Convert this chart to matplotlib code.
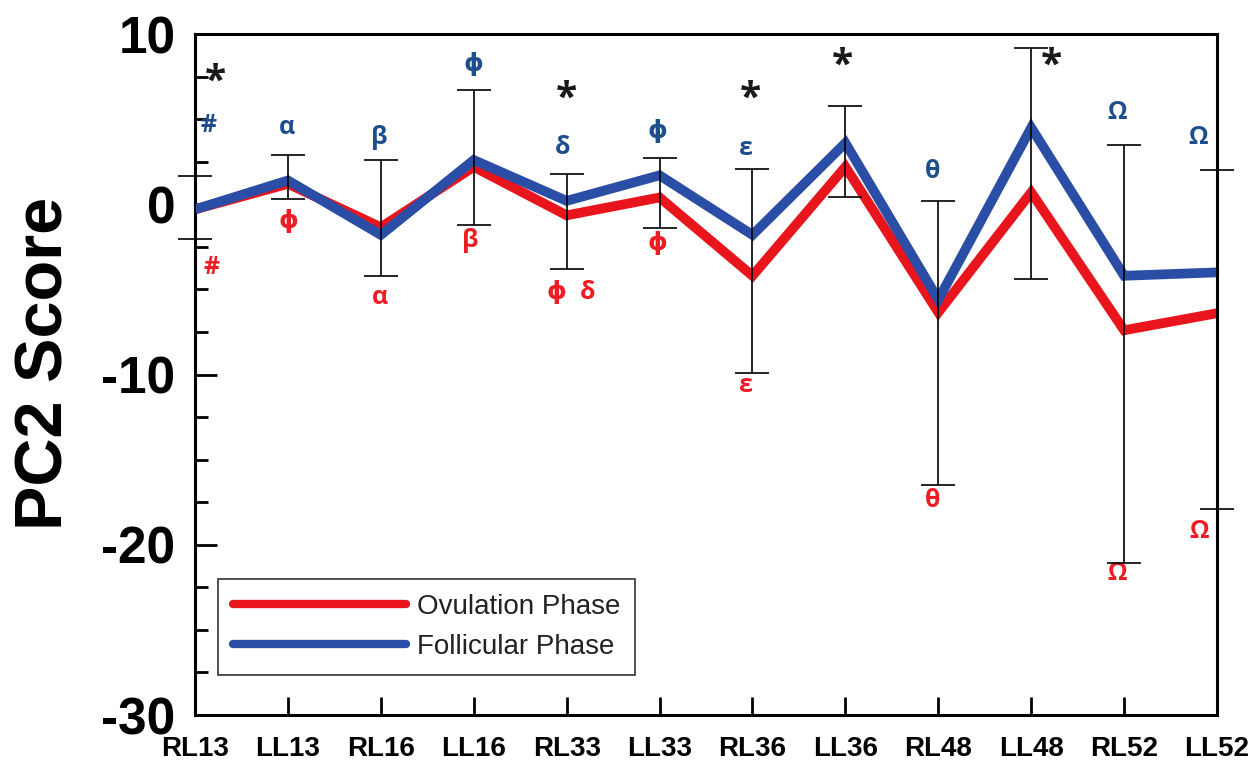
import matplotlib.pyplot as plt
from matplotlib.ticker import MultipleLocator
import numpy as np

# PC2 scores per landmark, two menstrual phases
categories = ['RL13', 'LL13', 'RL16', 'LL16', 'RL33', 'LL33',
              'RL36', 'LL36', 'RL48', 'LL48', 'RL52', 'LL52']
ovulation = [-0.3, 1.2, -1.35, 2.2, -0.65, 0.4, -4.2, 2.2, -6.35, 0.7, -7.4, -6.4]
follicular = [-0.3, 1.4, -1.8, 2.6, 0.2, 1.7, -1.8, 3.6, -5.6, 4.5, -4.2, -4.0]
err_top = [1.65, 2.9, 2.6, 6.7, 1.8, 2.7, 2.05, 5.8, 0.2, 9.2, 3.5, 2.0]
err_bottom = [-2.05, 0.3, -4.2, -1.2, -3.8, -1.4, -9.9, 0.4, -16.5, -4.4, -21.1, -17.9]

# significance markers (x in category units, y in score units)
star_x = [0.22, 4.0, 5.98, 6.97, 9.22]
star_y = [7.2, 6.2, 6.2, 8.1, 8.1]
blue_labels = ['#', 'α', 'β', 'ϕ', 'δ', 'ϕ', 'ε', 'θ', 'Ω', 'Ω']
blue_x = [0.15, 0.99, 1.98, 3.0, 3.96, 4.98, 5.93, 7.94, 9.92, 10.8]
blue_y = [4.65, 4.5, 3.95, 8.2, 3.35, 4.25, 3.3, 1.95, 5.4, 3.95]
red_labels = ['#', 'ϕ', 'α', 'β', 'ϕ', 'δ', 'ϕ', 'ε', 'θ', 'Ω', 'Ω']
red_x = [0.18, 1.0, 1.99, 2.96, 3.89, 4.23, 4.98, 5.93, 7.94, 9.93, 10.81]
red_y = [-3.7, -1.0, -5.45, -2.1, -5.2, -5.2, -2.3, -10.65, -17.4, -21.7, -19.2]

RED = '#E8151D'
BLUE = '#2A4DA5'
RED_TXT = '#EE1C24'
BLUE_TXT = '#1F4E8C'

plt.rcParams['font.family'] = ['Liberation Sans', 'DejaVu Sans']
plt.rcParams['axes.unicode_minus'] = False

fig = plt.figure(figsize=(12.6, 7.63), dpi=100)
ax = fig.add_axes([0.1548, 0.0629, 0.8111, 0.8925])

x = np.arange(len(categories))
ax.plot(x, ovulation, color=RED, lw=7, solid_capstyle='butt',
        solid_joinstyle='miter', clip_on=False, zorder=2, label='Ovulation Phase')
ax.plot(x, follicular, color=BLUE, lw=7, solid_capstyle='butt',
        solid_joinstyle='miter', clip_on=False, zorder=3, label='Follicular Phase')

top = np.array(err_top)
bot = np.array(err_bottom)
eb = ax.errorbar(x, (top + bot) / 2, yerr=(top - bot) / 2, fmt='none',
                 ecolor='black', elinewidth=1.2, capsize=12.5, capthick=1.2,
                 zorder=4)
for art in eb.lines[1] + eb.lines[2]:
    art.set_clip_on(False)

sym_font = ['Open Sans', 'DejaVu Sans']
for xs, ys in zip(star_x, star_y):
    ax.text(xs, ys, '*', fontsize=28, fontweight='bold', color='#1a1a1a',
            ha='center', va='center', family=sym_font)
for s, xs, ys in zip(blue_labels, blue_x, blue_y):
    ax.text(xs, ys, s, fontsize=18, fontweight='bold', color=BLUE_TXT,
            ha='center', va='center', family=sym_font)
for s, xs, ys in zip(red_labels, red_x, red_y):
    ax.text(xs, ys, s, fontsize=18, fontweight='bold', color=RED_TXT,
            ha='center', va='center', family=sym_font)

ax.set_xlim(0, 11)
ax.set_ylim(-30, 10)
ax.set_xticks(x)
ax.set_xticklabels(categories, fontsize=20, fontweight='bold')
ax.yaxis.set_major_locator(MultipleLocator(10))
ax.yaxis.set_minor_locator(MultipleLocator(2.5))
ax.tick_params(axis='y', labelsize=37, width=2, length=16, direction='in', pad=14)
ax.tick_params(axis='y', which='minor', width=2, length=9, direction='in')
ax.tick_params(axis='x', width=2, length=13, direction='in', pad=15)
for lab in ax.get_yticklabels():
    lab.set_fontweight('bold')
for sp in ax.spines.values():
    sp.set_linewidth(2.2)

ax.set_ylabel('PC2 Score', fontsize=48, fontweight='bold')
ax.yaxis.set_label_coords(-0.116, 0.517)

leg = ax.legend(loc='lower left', bbox_to_anchor=(0.0225, 0.0587),
                borderaxespad=0, fontsize=20, handlelength=6.2,
                handletextpad=0.4, borderpad=0.55, labelspacing=0.5,
                fancybox=False, edgecolor='black')
leg.get_frame().set_linewidth(1.2)
for t in leg.get_texts():
    t.set_color('#222222')
for h in leg.legend_handles:
    h.set_linewidth(6)
    h.set_solid_capstyle('round')

fig.savefig('out.png', dpi=100)
